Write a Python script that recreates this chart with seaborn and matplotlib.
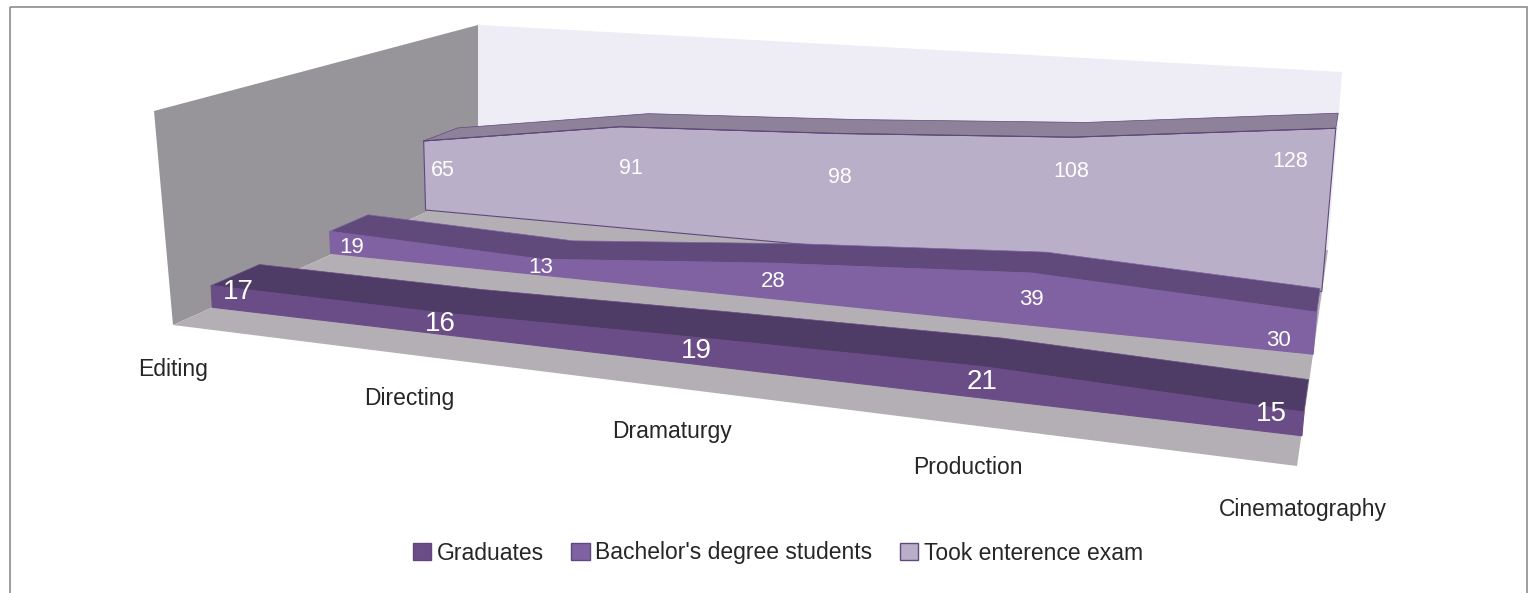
# film school chart, 3d area look drawn on a flat axes
import numpy as np
import pandas as pd
import matplotlib
matplotlib.use("Agg")
import matplotlib.pyplot as plt
from matplotlib.patches import Patch, Rectangle
import seaborn as sns

categories = ["Editing", "Directing", "Dramaturgy", "Production", "Cinematography"]
graduates = [17, 16, 19, 21, 15]
bachelors = [19, 13, 28, 39, 30]
took_exam = [65, 91, 98, 108, 128]
series_names = ["Graduates", "Bachelor's degree students", "Took enterence exam"]

# frame of the 3d box in image pixels
LEFT_WALL = [(154, 111), (478, 25), (478, 189), (173, 325)]
BACK_WALL = [(478, 25), (1342, 72), (1328, 250), (478, 189)]
FLOOR = [(173, 325), (1297, 466), (1328, 250), (478, 189)]

# depth slots front -> back, (front, back)
DEPTHS = [(0.33, 0.72), (1.35, 1.73), (2.35, 2.75)]

# (u, depth, height) -> pixel pairs used to calibrate the camera
CALIB = [
    (0, 0.33, 0, 212, 307), (1, 0.33, 0, 1302, 436),
    (0, 1.35, 0, 330, 253), (1, 1.35, 0, 1312, 357),
    (0, 2.35, 0, 426, 212), (1, 2.35, 0, 1322, 289),
    (0, 0.33, 17, 212, 285), (0, 0.72, 17, 258, 262),
    (1, 0.33, 15, 1305, 413), (1, 0.72, 15, 1308, 378),
    (0, 1.35, 19, 329, 232), (0, 1.73, 19, 370, 214),
    (1, 1.35, 30, 1315, 313), (1, 1.73, 30, 1322, 289),
    (0, 2.35, 65, 423, 140), (0, 2.75, 65, 458, 125),
    (0.25, 2.35, 91, 622, 129), (0.25, 2.75, 91, 645, 114),
    (0.5, 2.35, 98, 841, 139), (0.5, 2.75, 98, 855, 120),
    (0.75, 2.35, 108, 1073, 141), (0.75, 2.75, 108, 1086, 122),
    (1, 2.35, 128, 1334, 125), (1, 2.75, 128, 1339, 109),
]


def fit_camera(points):
    rows = []
    for u, d, h, px, py in points:
        w = [u, d / 3, h / 100, 1]
        x, y = px / 1000, py / 1000
        rows.append(w + [0, 0, 0, 0] + [-x * v for v in w])
        rows.append([0, 0, 0, 0] + w + [-y * v for v in w])
    return np.linalg.svd(np.array(rows))[2][-1].reshape(3, 4)


CAMERA = fit_camera(CALIB)


def project(u, d, h):
    x, y, z = CAMERA @ np.array([u, d / 3, h / 100, 1.0])
    return 1000 * x / z, 1000 * y / z


sns.set_theme(style="white")
plt.rcParams["font.family"] = ["Liberation Sans", "DejaVu Sans"]

front_colors = ["#6A4D87", "#8061A2", "#BAAFC9"]
top_colors = ["#4F3C66", "#604A7B", "#8D8299"]
all_values = [graduates, bachelors, took_exam]
label_sizes = [20, 16, 15.5]
# label anchor offset from the front top corner of each category
label_offsets = [
    [(27, -4), (0, 0), (0, 0), (0, 0), (-33, -10)],
    [(22, 5), (0, 0), (0, 0), (0, 0), (-38, 7)],
    [(19, 30), (11, 42), (4, 44), (-2, 34), (-46, 33)],
]

fig, ax = plt.subplots(figsize=(15.37, 5.93), dpi=100)
ax.set_position([0, 0, 1, 1])
ax.set_xlim(0, 1537)
ax.set_ylim(593, 0)
ax.axis("off")

ax.add_patch(Rectangle((10, 7), 1517, 620, fill=False, ec="#8C8C8C", lw=1.2))
ax.fill(*zip(*LEFT_WALL), color="#979599", lw=0)
ax.fill(*zip(*BACK_WALL), color="#EEECF4", lw=0)
ax.fill(*zip(*FLOOR), color="#B3AFB4", lw=0)

us = np.arange(len(categories)) / (len(categories) - 1)

# back series first so the front ones cover them
for i in [2, 1, 0]:
    vals = all_values[i]
    d_f, d_b = DEPTHS[i]
    base = [project(u, d_f, 0) for u in us]
    front = [project(u, d_f, v) for u, v in zip(us, vals)]
    back = [project(u, d_b, v) for u, v in zip(us, vals)]
    edge = "#5F497A" if i == 2 else front_colors[i]
    ax.fill(*zip(*(front + base[::-1])), color=front_colors[i], ec=edge, lw=0.8)
    ax.fill(*zip(*(back + front[::-1])), color=top_colors[i], ec=edge, lw=0.5)
    line = pd.DataFrame(front, columns=["x", "y"])
    sns.lineplot(data=line, x="x", y="y", sort=False, estimator=None, ax=ax,
                 color=edge, lw=0.8, legend=False)
    for j, v in enumerate(vals):
        ox, oy = label_offsets[i][j]
        fx, fy = front[j]
        ax.text(fx + ox, (fy + base[j][1]) / 2 + oy if i < 2 else fy + oy, str(v),
                color="white", fontsize=label_sizes[i], ha="center", va="center")

for u, name in zip(us, categories):
    fx, fy = project(u, 0, 0)
    ax.text(fx + 5, fy + 42, name, color="#262626", fontsize=16.5, ha="center", va="center")

handles = [Patch(facecolor=c, edgecolor="#5F497A", lw=1) for c in front_colors]
ax.legend(handles, series_names, loc="center", bbox_to_anchor=(778, 553),
          bbox_transform=ax.transData, ncol=3, frameon=False, fontsize=16.5,
          handlelength=0.8, handleheight=0.8, handletextpad=0.25, columnspacing=1.2,
          labelcolor="#262626")

ax.set_xlabel("")
ax.set_ylabel("")
fig.savefig("out.png", dpi=100)
plt.close(fig)
